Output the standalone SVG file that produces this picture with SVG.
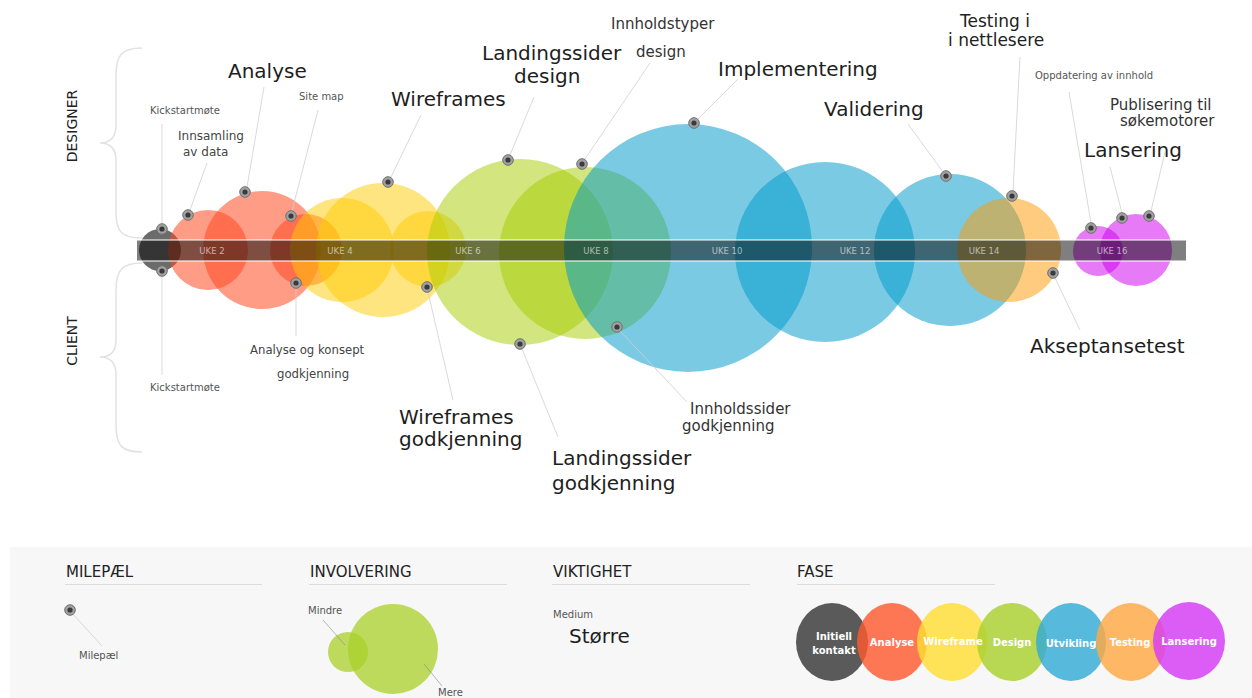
<svg xmlns="http://www.w3.org/2000/svg" xmlns:xlink="http://www.w3.org/1999/xlink" width="1252" height="698" viewBox="0 0 1252 698">
<style>
text{font-family:"DejaVu Sans","Liberation Sans",sans-serif;}
.t20{font-size:20px;fill:#1e1e1e;}
.t15{font-size:15px;fill:#333;}
.t17{font-size:17px;fill:#222;}
.t12{font-size:12px;fill:#444;}
.t10{font-size:10px;fill:#555;}
.uke{font-size:8.5px;fill:#fff;fill-opacity:0.6;text-anchor:middle;}
.side{font-size:14px;fill:#222;text-anchor:middle;}
.head{font-size:15px;fill:#222;}
.fl{font-size:10px;font-weight:bold;fill:#fff;text-anchor:middle;}
.red{fill:#FF4A22;fill-opacity:0.55;}
.yel{fill:#FFCC00;fill-opacity:0.5;}
.grn{fill:#A5CC00;fill-opacity:0.5;}
.blu{fill:#0099CC;fill-opacity:0.52;}
.org{fill:#FF9900;fill-opacity:0.5;}
.pur{fill:#D000F0;fill-opacity:0.52;}
.lead{stroke:#cfcfcf;stroke-width:0.8;fill:none;}
.brace{stroke:#e2e2e2;stroke-width:1.5;fill:none;}
.rule{stroke:#dddddd;stroke-width:1;}
</style>
<defs>
<g id="ms"><circle r="5.3" fill="#a0a0a0" stroke="#707070" stroke-width="1"/><circle r="2.6" fill="#3a3a3a"/></g>
</defs>
<rect width="1252" height="698" fill="#ffffff"/>

<!-- braces and side labels -->
<g id="designer">
<path class="brace" d="M142,48 C122,48 116,55 116,75 L116,125 C116,138 110,143 100,143 C110,143 116,148 116,161 L116,212 C116,232 122,238 142,238"/>
<text class="side" transform="translate(77,126) rotate(-90)">DESIGNER</text>
</g>
<g id="client">
<path class="brace" d="M142,263 C122,263 116,270 116,290 L116,340 C116,352 110,357 100,357 C110,357 116,362 116,375 L116,425 C116,446 122,452 142,452"/>
<text class="side" transform="translate(77,341) rotate(-90)">CLIENT</text>
</g>

<!-- phase circles -->
<g id="phase-kontakt"><circle cx="160" cy="250" r="21" fill="#3a3a3a" fill-opacity="0.75"/></g>
<g id="phase-analyse">
<circle class="red" cx="208" cy="250" r="40"/>
<circle class="red" cx="262" cy="250" r="59"/>
<circle class="red" cx="306" cy="250" r="36"/>
</g>
<g id="phase-wireframe">
<circle class="yel" cx="342" cy="250" r="52"/>
<circle class="yel" cx="383" cy="250" r="67"/>
<circle class="yel" cx="428" cy="249" r="38"/>
</g>
<g id="phase-design">
<circle class="grn" cx="520" cy="252" r="93"/>
<circle class="grn" cx="585" cy="253" r="86"/>
</g>
<g id="phase-utvikling">
<circle class="blu" cx="688" cy="248" r="124"/>
<circle class="blu" cx="825" cy="252" r="90"/>
<circle class="blu" cx="950" cy="250" r="76"/>
</g>
<g id="phase-testing"><circle class="org" cx="1009" cy="250" r="52"/></g>
<g id="phase-lansering">
<circle class="pur" cx="1098" cy="251" r="25"/>
<circle class="pur" cx="1136" cy="250" r="36"/>
</g>

<!-- timeline bar -->
<g id="timeline">
<rect x="137" y="240" width="1049" height="21" fill="#000" fill-opacity="0.5"/>
<line x1="137" y1="240" x2="1186" y2="240" stroke="#fff" stroke-opacity="0.7" stroke-width="1.5"/>
<line x1="137" y1="261" x2="1186" y2="261" stroke="#fff" stroke-opacity="0.7" stroke-width="1.5"/>
<text class="uke" x="212" y="254">UKE 2</text>
<text class="uke" x="340" y="254">UKE 4</text>
<text class="uke" x="468" y="254">UKE 6</text>
<text class="uke" x="596" y="254">UKE 8</text>
<text class="uke" x="727" y="254">UKE 10</text>
<text class="uke" x="855" y="254">UKE 12</text>
<text class="uke" x="984" y="254">UKE 14</text>
<text class="uke" x="1112" y="254">UKE 16</text>
</g>

<!-- connectors (leader lines) -->
<g id="connectors">
<line class="lead" x1="162" y1="124" x2="162" y2="224"/>
<line class="lead" x1="162" y1="276" x2="162" y2="375"/>
<line class="lead" x1="190" y1="210" x2="207" y2="163"/>
<line class="lead" x1="247" y1="187" x2="264" y2="87"/>
<line class="lead" x1="292" y1="211" x2="318" y2="110"/>
<line class="lead" x1="296" y1="288" x2="296" y2="336"/>
<line class="lead" x1="391" y1="177" x2="421" y2="115"/>
<line class="lead" x1="428" y1="292" x2="453" y2="400"/>
<line class="lead" x1="510" y1="155" x2="534" y2="97"/>
<line class="lead" x1="585" y1="159" x2="650" y2="63"/>
<line class="lead" x1="522" y1="349" x2="558" y2="437"/>
<line class="lead" x1="620" y1="331" x2="687" y2="402"/>
<line class="lead" x1="698" y1="119" x2="738" y2="79"/>
<line class="lead" x1="943" y1="172" x2="908" y2="124"/>
<line class="lead" x1="1013" y1="191" x2="1020" y2="57"/>
<line class="lead" x1="1055" y1="278" x2="1080" y2="330"/>
<line class="lead" x1="1091" y1="223" x2="1069" y2="92"/>
<line class="lead" x1="1122" y1="213" x2="1110" y2="167"/>
<line class="lead" x1="1151" y1="211" x2="1165" y2="152"/>
</g>

<!-- milestones with labels -->
<g id="m-kickstart-designer"><use href="#ms" x="162" y="229"/><text class="t10" x="150" y="114">Kickstartmøte</text></g>
<g id="m-kickstart-client"><use href="#ms" x="162" y="271"/><text class="t10" x="150" y="391">Kickstartmøte</text></g>
<g id="m-innsamling"><use href="#ms" x="188" y="215"/><text class="t12" x="178" y="140">Innsamling</text><text class="t12" x="183" y="156">av data</text></g>
<g id="m-analyse"><use href="#ms" x="245" y="192"/><text class="t20" x="228" y="78">Analyse</text></g>
<g id="m-sitemap"><use href="#ms" x="291" y="216"/><text class="t10" x="299" y="100" fill="#666">Site map</text></g>
<g id="m-analyse-godkjenning"><use href="#ms" x="296" y="283"/><text class="t12" x="250" y="354" style="font-size:11.7px">Analyse og konsept</text><text class="t12" x="277" y="378" style="font-size:11.7px">godkjenning</text></g>
<g id="m-wireframes"><use href="#ms" x="388" y="182"/><text class="t20" x="391" y="106">Wireframes</text></g>
<g id="m-wireframes-godkjenning"><use href="#ms" x="427" y="287"/><text class="t20" x="399" y="424">Wireframes</text><text class="t20" x="399" y="446">godkjenning</text></g>
<g id="m-landingssider-design"><use href="#ms" x="508" y="160"/><text class="t20" x="482" y="60">Landingssider</text><text class="t20" x="514" y="83">design</text></g>
<g id="m-innholdstyper"><use href="#ms" x="582" y="164"/><text class="t15" x="611" y="29">Innholdstyper</text><text class="t15" x="636" y="57">design</text></g>
<g id="m-landingssider-godkjenning"><use href="#ms" x="520" y="344"/><text class="t20" x="552" y="465">Landingssider</text><text class="t20" x="552" y="490">godkjenning</text></g>
<g id="m-innholdssider"><use href="#ms" x="617" y="327"/><text class="t15" x="690" y="414">Innholdssider</text><text class="t15" x="682" y="431">godkjenning</text></g>
<g id="m-implementering"><use href="#ms" x="694" y="123"/><text class="t20" x="718" y="76">Implementering</text></g>
<g id="m-validering"><use href="#ms" x="946" y="176"/><text class="t20" x="824" y="116">Validering</text></g>
<g id="m-testing"><use href="#ms" x="1012" y="196"/><text class="t17" x="960" y="27">Testing i</text><text class="t17" x="948" y="46">i nettlesere</text></g>
<g id="m-akseptansetest"><use href="#ms" x="1053" y="273"/><text class="t20" x="1030" y="353">Akseptansetest</text></g>
<g id="m-oppdatering"><use href="#ms" x="1091" y="228"/><text class="t10" x="1035" y="79">Oppdatering av innhold</text></g>
<g id="m-lansering"><use href="#ms" x="1122" y="218"/><text class="t20" x="1084" y="157">Lansering</text></g>
<g id="m-publisering"><use href="#ms" x="1149" y="216"/><text class="t15" x="1110" y="110" fill="#222">Publisering til</text><text class="t15" x="1120" y="126" fill="#222">søkemotorer</text></g>

<!-- legend -->
<rect x="10" y="547" width="1242" height="151" fill="#f7f7f7"/>
<g id="legend-milepael">
<text class="head" x="66" y="577">MILEPÆL</text>
<line class="rule" x1="65" y1="584.5" x2="262" y2="584.5"/>
<line class="lead" x1="72" y1="613" x2="102" y2="646" stroke="#bbb"/>
<use href="#ms" x="70" y="610"/>
<text class="t10" x="79" y="659" fill="#333">Milepæl</text>
</g>
<g id="legend-involvering">
<text class="head" x="310" y="577">INVOLVERING</text>
<line class="rule" x1="309" y1="584.5" x2="507" y2="584.5"/>
<circle cx="348" cy="652" r="20" fill="#A9D02A" fill-opacity="0.75"/>
<circle cx="393" cy="649" r="45" fill="#A9D02A" fill-opacity="0.75"/>
<line x1="323" y1="620" x2="345" y2="645" stroke="#888" stroke-width="0.6"/>
<line x1="424" y1="664" x2="442" y2="686" stroke="#888" stroke-width="0.6"/>
<text class="t10" x="308" y="614" fill="#333">Mindre</text>
<text class="t10" x="438" y="696" fill="#333">Mere</text>
</g>
<g id="legend-viktighet">
<text class="head" x="553" y="577">VIKTIGHET</text>
<line class="rule" x1="552" y1="584.5" x2="750" y2="584.5"/>
<text class="t10" x="553" y="618" fill="#333">Medium</text>
<text class="t20" x="569" y="643">Større</text>
</g>
<g id="legend-fase">
<text class="head" x="797" y="577">FASE</text>
<line class="rule" x1="797" y1="584.5" x2="995" y2="584.5"/>
<ellipse cx="832" cy="642" rx="36" ry="39" fill="#444" fill-opacity="0.88"/>
<ellipse cx="892" cy="642" rx="35" ry="39" fill="#FF5A30" fill-opacity="0.82"/>
<ellipse cx="952" cy="642" rx="35" ry="39" fill="#FFDD33" fill-opacity="0.82"/>
<ellipse cx="1012" cy="642" rx="35" ry="39" fill="#AAD130" fill-opacity="0.82"/>
<ellipse cx="1071" cy="642" rx="35" ry="39" fill="#33ABD6" fill-opacity="0.82"/>
<ellipse cx="1131" cy="642" rx="35" ry="39" fill="#FFAA44" fill-opacity="0.82"/>
<ellipse cx="1189" cy="641" rx="36" ry="39" fill="#D63AF5" fill-opacity="0.82"/>
<text class="fl" x="834" y="640">Initiell</text>
<text class="fl" x="834" y="654">kontakt</text>
<text class="fl" x="892" y="646">Analyse</text>
<text class="fl" x="953" y="645">Wireframe</text>
<text class="fl" x="1012" y="646">Design</text>
<text class="fl" x="1071" y="647">Utvikling</text>
<text class="fl" x="1130" y="646">Testing</text>
<text class="fl" x="1189" y="645">Lansering</text>
</g>
</svg>
